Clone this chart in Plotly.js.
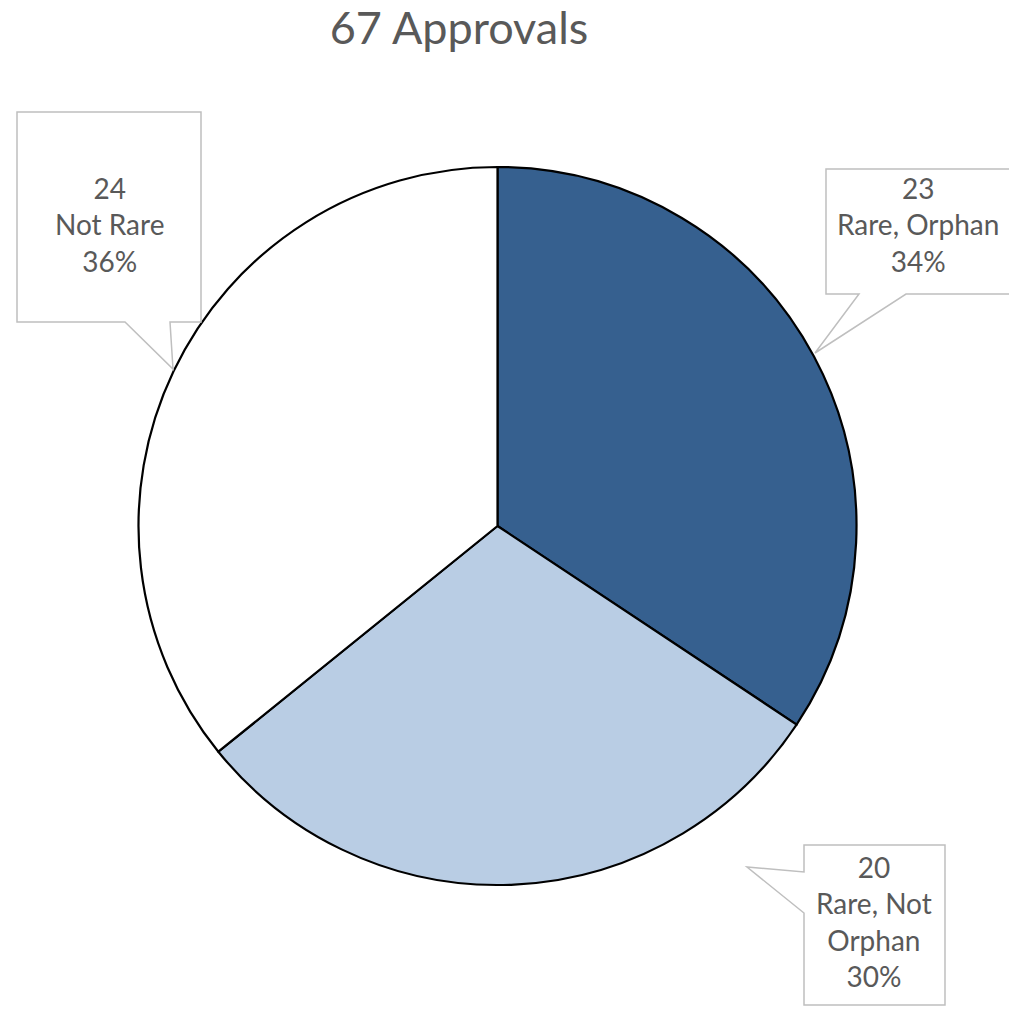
<!DOCTYPE html>
<html>
<head>
<meta charset="utf-8">
<script src="https://cdn.plot.ly/plotly-3.0.1.min.js"></script>
<style>html,body{margin:0;padding:0;background:#fff;}#chart{width:1009px;height:1012px;}</style>
</head>
<body>
<div id="chart"></div>
<script>
const chartTitle = "67 Approvals";
const categories = ["Rare, Orphan", "Rare, Not Orphan", "Not Rare"];
const categoryLines = ["Rare, Orphan", "Rare, Not<br>Orphan", "Not Rare"];
const values = [23, 20, 24];
const colors = ["#36608F", "#B9CDE4", "#FFFFFF"];

const W = 1009, H = 1012;
const px = x => x / W;
const py = y => 1 - y / H;
const total = values.reduce((a, b) => a + b, 0);
const pct = values.map(v => Math.round(v / total * 100));

// callout geometry (pixel layout): box + tail, and text center
const callouts = [
  {box: [826, 169, 1012, 294], tail: [[859, 294], [815, 353], [906, 294]], side: "bottom", tx: 918, ty: 225},
  {box: [804, 845, 945, 1005], tail: [[804, 872], [747, 867], [804, 913]], side: "left", tx: 874, ty: 921},
  {box: [17, 112, 201, 322], tail: [[125, 322], [173, 369], [170, 322]], side: "bottom", tx: 109, ty: 225}
];

function calloutPath(c) {
  const [x0, y0, x1, y1] = c.box;
  const t = c.tail;
  let pts;
  if (c.side === "bottom") {
    pts = [[x0, y0], [x1, y0], [x1, y1], t[2], t[1], t[0], [x0, y1]];
  } else {
    pts = [[x0, y0], [x1, y0], [x1, y1], [x0, y1], t[2], t[1], t[0]];
  }
  return "M" + pts.map(p => px(p[0]).toFixed(5) + "," + py(p[1]).toFixed(5)).join(" L") + " Z";
}

const shapes = callouts.map(c => ({
  type: "path", xref: "paper", yref: "paper",
  path: calloutPath(c),
  fillcolor: "#FFFFFF",
  line: {color: "#BFBFBF", width: 1.5},
  layer: "above"
}));

const annotations = callouts.map((c, i) => ({
  xref: "paper", yref: "paper",
  x: px(c.tx), y: py(c.ty),
  xanchor: "center", yanchor: "middle",
  text: values[i] + "<br>" + categoryLines[i] + "<br>" + pct[i] + "%",
  showarrow: false,
  align: "center",
  font: {family: "Lato, 'Open Sans', sans-serif", size: 28, color: "#595959"}
}));

const data = [{
  type: "pie",
  labels: categories,
  values: values,
  sort: false,
  direction: "clockwise",
  rotation: 0,
  marker: {colors: colors, line: {color: "#000000", width: 2.2}},
  textinfo: "none",
  hoverinfo: "label+value+percent",
  domain: {x: [px(138), px(857)], y: [py(885), py(167)]},
  showlegend: false
}];

const layout = {
  width: W, height: H,
  margin: {l: 0, r: 0, t: 0, b: 0},
  paper_bgcolor: "#FFFFFF",
  title: {
    text: chartTitle,
    x: px(459), xanchor: "center",
    y: py(28), yanchor: "middle",
    font: {family: "Lato, 'Open Sans', sans-serif", size: 45, color: "#595959"}
  },
  shapes: shapes,
  annotations: annotations,
  showlegend: false
};

Plotly.newPlot("chart", data, layout, {displayModeBar: false, staticPlot: true});
</script>
</body>
</html>
